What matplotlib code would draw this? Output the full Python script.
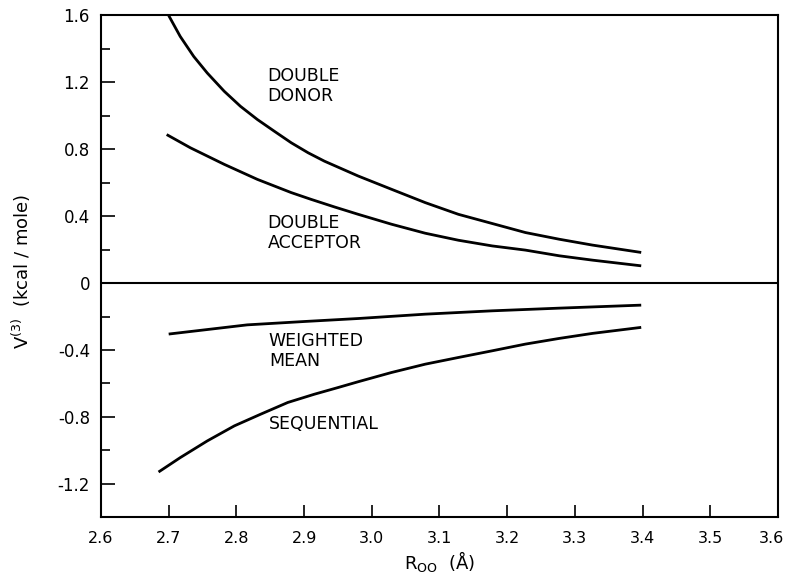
import numpy as np
import matplotlib.pyplot as plt
from matplotlib.ticker import MultipleLocator, FuncFormatter
from matplotlib.transforms import ScaledTranslation

# ============= DATA =============
donor_r = [2.700, 2.717, 2.737, 2.757, 2.782, 2.806, 2.831, 2.856, 2.881, 2.906, 2.930,
           2.980, 3.029, 3.079, 3.128, 3.178, 3.227, 3.277, 3.326, 3.398]
donor_v = [1.600, 1.475, 1.355, 1.256, 1.147, 1.057, 0.978, 0.908, 0.839, 0.779, 0.729,
           0.640, 0.561, 0.481, 0.411, 0.356, 0.302, 0.262, 0.227, 0.183]

acceptor_r = [2.697, 2.732, 2.782, 2.831, 2.881, 2.910, 2.945, 2.980, 3.029, 3.079,
              3.128, 3.178, 3.227, 3.277, 3.326, 3.398]
acceptor_v = [0.888, 0.809, 0.710, 0.620, 0.541, 0.501, 0.455, 0.411, 0.352, 0.298,
              0.256, 0.222, 0.197, 0.163, 0.137, 0.103]

mean_r = [2.700, 2.816, 2.900, 2.980, 3.079, 3.178, 3.277, 3.398]
mean_v = [-0.305, -0.250, -0.230, -0.212, -0.186, -0.166, -0.150, -0.132]

seq_r = [2.685, 2.717, 2.757, 2.797, 2.836, 2.876, 2.915, 2.950, 2.980, 3.029, 3.079,
         3.128, 3.178, 3.227, 3.277, 3.326, 3.398]
seq_v = [-1.130, -1.044, -0.944, -0.854, -0.784, -0.714, -0.665, -0.625, -0.590, -0.535,
         -0.485, -0.445, -0.405, -0.365, -0.331, -0.301, -0.265]

x_ticks = [2.6, 2.7, 2.8, 2.9, 3.0, 3.1, 3.2, 3.3, 3.4, 3.5, 3.6]
x_ticklabels = ["2.6", "2.7", "2.8", "2.9", "3.0", "3.1", "3.2", "3.3", "3.4", "3.5", "3.6"]

labels = ["DOUBLE\nDONOR", "DOUBLE\nACCEPTOR", "WEIGHTED\nMEAN", "SEQUENTIAL"]
label_pos = [(2.846, 1.178), (2.846, 0.302), (2.848, -0.405), (2.848, -0.843)]


def fmt_y(v, pos):
    if abs(v) < 1e-9:
        return "0"
    return f"{v:.1f}"


def main():
    plt.rcParams['font.family'] = ['DejaVu Sans']
    plt.rcParams['axes.unicode_minus'] = False
    fig = plt.figure(figsize=(7.89, 5.74), dpi=100)
    ax = fig.add_axes([0.128, 0.099, 0.858, 0.874])

    for r, v in [(donor_r, donor_v), (acceptor_r, acceptor_v), (mean_r, mean_v), (seq_r, seq_v)]:
        ax.plot(r, v, color="black", lw=2.0, solid_capstyle="butt", solid_joinstyle="round")

    ax.axhline(0, color="black", lw=1.5)

    for txt, (x, y) in zip(labels, label_pos):
        ax.text(x, y, txt, fontsize=12.5, va="center", ha="left", linespacing=1.15)

    ax.set_xlim(2.6, 3.6)
    ax.set_ylim(-1.4, 1.6)
    ax.set_xticks(x_ticks, x_ticklabels)
    ax.yaxis.set_major_locator(MultipleLocator(0.4))
    ax.yaxis.set_minor_locator(MultipleLocator(0.2))
    ax.yaxis.set_major_formatter(FuncFormatter(fmt_y))
    ax.tick_params(which="both", direction="in", labelsize=12, width=1.2)
    ax.tick_params(axis="y", which="major", length=10, pad=8)
    ax.tick_params(axis="y", which="minor", length=6.5)
    ax.tick_params(axis="x", which="major", length=8.6, pad=10, labelsize=11.5)
    for s in ax.spines.values():
        s.set_linewidth(1.5)

    # keep the last x label inside the figure
    last = ax.xaxis.get_major_ticks()[-1].label1
    last.set_transform(last.get_transform() + ScaledTranslation(-5 / 72, 0, fig.dpi_scale_trans))

    ax.set_xlabel(r"R$_{\rm OO}$  (Å)", fontsize=13, labelpad=2)
    ax.set_ylabel(r"V$^{(3)}$  (kcal / mole)", fontsize=13)
    ax.yaxis.set_label_coords(-0.100, 0.49)

    fig.savefig("out.png", dpi=100)


if __name__ == "__main__":
    main()
